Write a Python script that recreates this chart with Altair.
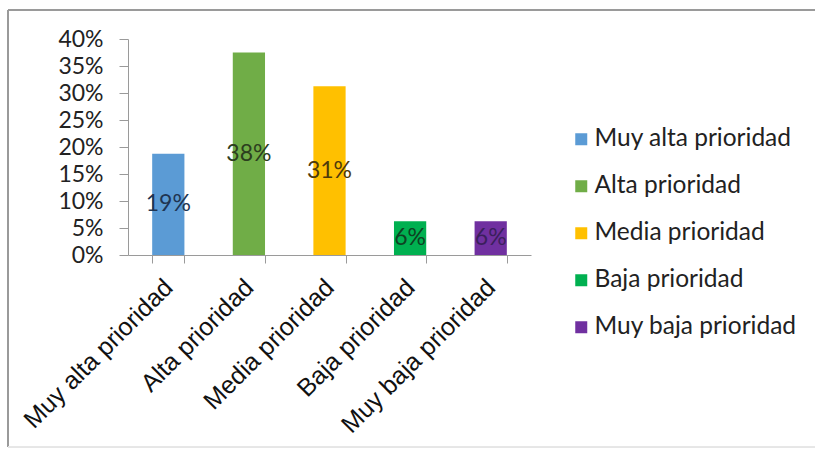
import altair as alt
import pandas as pd

categories = ["Muy alta prioridad", "Alta prioridad", "Media prioridad",
              "Baja prioridad", "Muy baja prioridad"]
values = [0.1875, 0.375, 0.3125, 0.0625, 0.0625]
bar_colors = ["#5B9BD5", "#70AD47", "#FFC000", "#00B050", "#7030A0"]
label_colors = ["#1F3552", "#2C3E1E", "#4E3A0C", "#0E4222", "#3B1F5C"]
y_ticks = [0, 0.05, 0.10, 0.15, 0.20, 0.25, 0.30, 0.35, 0.40]

df = pd.DataFrame({"cat": categories, "value": values})

W, H = 403, 216
LEFT, TOP = 128, 39

xaxis = alt.Axis(title=None, labelAngle=-45, labelAlign="right",
                 labelBaseline="middle",
                 labelFont="Liberation Sans", labelFontSize=25,
                 labelColor="#111", labelPadding=20,
                 domainColor="#9a9a9a", tickColor="#9a9a9a",
                 tickSize=8, tickBand="extent", labelLimit=400,
                 labelOverlap=False, grid=False)
yaxis = alt.Axis(title=None, format=".0%", values=y_ticks,
                 grid=False, labelFont="Lato", labelFontSize=23,
                 labelColor="#222", labelPadding=16,
                 labelOverlap=False,
                 domainColor="#9a9a9a", tickColor="#9a9a9a",
                 tickSize=9)
xscale = alt.Scale(paddingInner=0.6, paddingOuter=0.3)
yscale = alt.Scale(domain=[0, 0.4], nice=False)

bars = alt.Chart(df).mark_bar().encode(
    x=alt.X("cat:N", sort=categories, scale=xscale, axis=xaxis),
    y=alt.Y("value:Q", scale=yscale, axis=yaxis),
    color=alt.Color("cat:N", sort=categories,
                    scale=alt.Scale(domain=categories, range=bar_colors),
                    legend=alt.Legend(title=None, orient="none",
                                      legendX=441, legendY=88,
                                      symbolType="square", symbolSize=144,
                                      symbolStrokeWidth=0,
                                      labelFont="Lato", labelFontSize=24.5,
                                      labelColor="#222", rowPadding=22,
                                      labelOffset=1, labelLimit=400)),
)

labels = alt.Chart(df).transform_calculate(
    mid="datum.value / 2"
).mark_text(font="Lato", fontSize=23, align="center", baseline="middle").encode(
    x=alt.X("cat:N", sort=categories, scale=xscale, axis=xaxis),
    y=alt.Y("mid:Q", scale=yscale, axis=yaxis),
    text=alt.Text("value:Q", format=".0%"),
    color=alt.Color("cat:N", sort=categories,
                    scale=alt.Scale(domain=categories, range=label_colors),
                    legend=None),
)

frame_left = alt.Chart(df).mark_rule(color="#9a9a9a", strokeWidth=1.5).encode(
    x=alt.value(8 - LEFT), y=alt.value(10 - TOP), y2=alt.value(447 - TOP))
frame_top = alt.Chart(df).mark_rule(color="#9a9a9a", strokeWidth=1.5).encode(
    x=alt.value(8 - LEFT), x2=alt.value(815 - LEFT), y=alt.value(10 - TOP))
frame_bottom = alt.Chart(df).mark_rule(color="#e6e6e6", strokeWidth=1).encode(
    x=alt.value(8 - LEFT), x2=alt.value(815 - LEFT), y=alt.value(447 - TOP))

chart = alt.layer(frame_left, frame_top, frame_bottom, bars, labels).resolve_scale(
    color="independent"
).properties(
    width=W, height=H,
    autosize="none",
    background="white",
    padding={"left": LEFT, "top": TOP, "right": 815 - LEFT - W, "bottom": 449 - TOP - H},
).configure_view(strokeWidth=0)

chart.save("out.html", embed_options={"renderer": "svg", "actions": False})
